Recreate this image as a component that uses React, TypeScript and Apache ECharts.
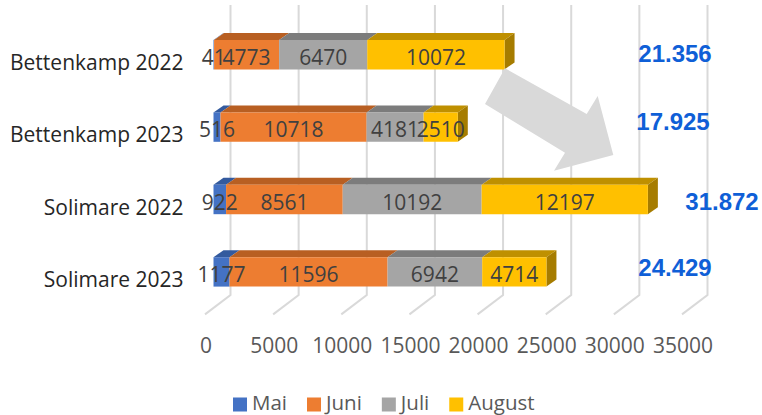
import React, { useEffect, useRef } from "react";
import * as echarts from "echarts";

const categories = ["Bettenkamp 2022", "Bettenkamp 2023", "Solimare 2022", "Solimare 2023"];
const seriesNames = ["Mai", "Juni", "Juli", "August"];
const mai = [41, 516, 922, 1177];
const juni = [4773, 10718, 8561, 11596];
const juli = [6470, 4181, 10192, 6942];
const august = [10072, 2510, 12197, 4714];
const totals = ["21.356", "17.925", "31.872", "24.429"];
const ticks = [0, 5000, 10000, 15000, 20000, 25000, 30000, 35000];

const values = [mai, juni, juli, august];
const frontColors = ["#4472c4", "#ed7d31", "#a5a5a5", "#ffc000"];
const topColors = ["#335a9e", "#b85f22", "#7c7c7c", "#bf9000"];
const sideColor = "#a67c00";
const FONT = "'Open Sans', sans-serif";
const DX = 10;
const DY = 7;
const BAR_H = 29.4;

const faces: number[][] = [];
categories.forEach((_, c) => {
  let acc = 0;
  values.forEach((v, s) => {
    faces.push([acc, acc + v[c], c, s]);
    acc += v[c];
  });
});

const renderFace = (_: any, api: any) => {
  const s = api.value(3);
  const a = api.coord([api.value(0), api.value(2)]);
  const b = api.coord([api.value(1), api.value(2)]);
  const top = a[1] - BAR_H / 2;
  const bot = a[1] + BAR_H / 2;
  const children: any[] = [
    {
      type: "polygon",
      shape: { points: [[a[0], top], [a[0] + DX, top - DY], [b[0] + DX, top - DY], [b[0], top]] },
      style: { fill: topColors[s] },
    },
  ];
  if (s === 3) {
    children.push({
      type: "polygon",
      shape: { points: [[b[0], top], [b[0] + DX, top - DY], [b[0] + DX, bot - DY], [b[0], bot]] },
      style: { fill: sideColor },
    });
  }
  return { type: "group", children };
};

const renderGrid = (params: any, api: any) => {
  const cs = params.coordSys;
  const p = api.coord([api.value(0), 0]);
  const yTop = cs.y;
  const yBot = cs.y + cs.height;
  return {
    type: "polyline",
    shape: { points: [[p[0] + 17, yTop - 13.5], [p[0] + 17, yBot - 13], [p[0] - 8.5, yBot + 6.3]] },
    style: { fill: "none", stroke: "#d9d9d9", lineWidth: 2 },
  };
};

const totalPos = [[675, 53], [673, 121], [722, 201], [675, 267]];

export default function App() {
  const ref = useRef<HTMLDivElement>(null);
  useEffect(() => {
    const chart = echarts.init(ref.current!, undefined, { renderer: "svg" });
    chart.setOption({
      animation: false,
      backgroundColor: "#fff",
      grid: { left: 213.5, top: 18.5, width: 477, height: 289.6 },
      xAxis: {
        type: "value",
        min: 0,
        max: 35000,
        interval: 5000,
        splitLine: { show: false },
        axisLine: { show: false },
        axisTick: { show: false },
        axisLabel: {
          color: "#595959",
          fontFamily: FONT,
          fontSize: 21,
          margin: 26,
          padding: [0, 15, 0, 0],
          formatter: (v: number) => String(v),
        },
      },
      yAxis: {
        type: "category",
        inverse: true,
        data: categories,
        axisLine: { show: false },
        axisTick: { show: false },
        axisLabel: {
          color: "#262626",
          fontFamily: FONT,
          fontSize: 21,
          margin: 30,
          verticalAlign: "top",
          lineHeight: 14,
        },
      },
      legend: {
        data: seriesNames,
        left: 233,
        top: 391.5,
        padding: 0,
        itemWidth: 14,
        itemHeight: 19,
        itemGap: 20,
        icon: "path://M0,0L0,0ZM0,5H14V19H0Z",
        textStyle: { color: "#595959", fontFamily: FONT, fontSize: 20.5, lineHeight: 20 },
      },
      series: [
        {
          type: "custom",
          silent: true,
          z: 1,
          data: ticks.map((t) => [t]),
          encode: { x: 0 },
          renderItem: renderGrid,
        },
        ...seriesNames.map((name, i) => ({
          type: "bar",
          name,
          stack: "total",
          z: 2,
          barWidth: BAR_H,
          data: values[i],
          itemStyle: { color: frontColors[i] },
          label: {
            show: true,
            position: "inside",
            color: "#404040",
            fontFamily: FONT,
            fontSize: 21,
            offset: [0, 2],
          },
        })),
        {
          type: "custom",
          silent: true,
          z: 1.5,
          data: faces,
          encode: { x: [0, 1], y: 2 },
          renderItem: renderFace,
        },
      ],
      graphic: [
        {
          type: "polygon",
          z: 100,
          shape: {
            points: [[505, 68.3], [485, 104], [565, 152.7], [554, 170.7], [613.3, 155], [597.7, 96], [586.7, 114]],
          },
          style: { fill: "#d9d9d9" },
        },
        ...totals.map((t, i) => ({
          type: "text",
          z: 100,
          x: totalPos[i][0],
          y: totalPos[i][1],
          style: {
            text: t,
            fill: "#0f5fd7",
            font: "bold 24px 'Liberation Sans', Arial, sans-serif",
            align: "center",
            verticalAlign: "middle",
          },
        })),
      ],
    });
    return () => chart.dispose();
  }, []);
  return <div ref={ref} style={{ position: "absolute", left: 0, top: 0, width: 762, height: 415 }} />;
}
